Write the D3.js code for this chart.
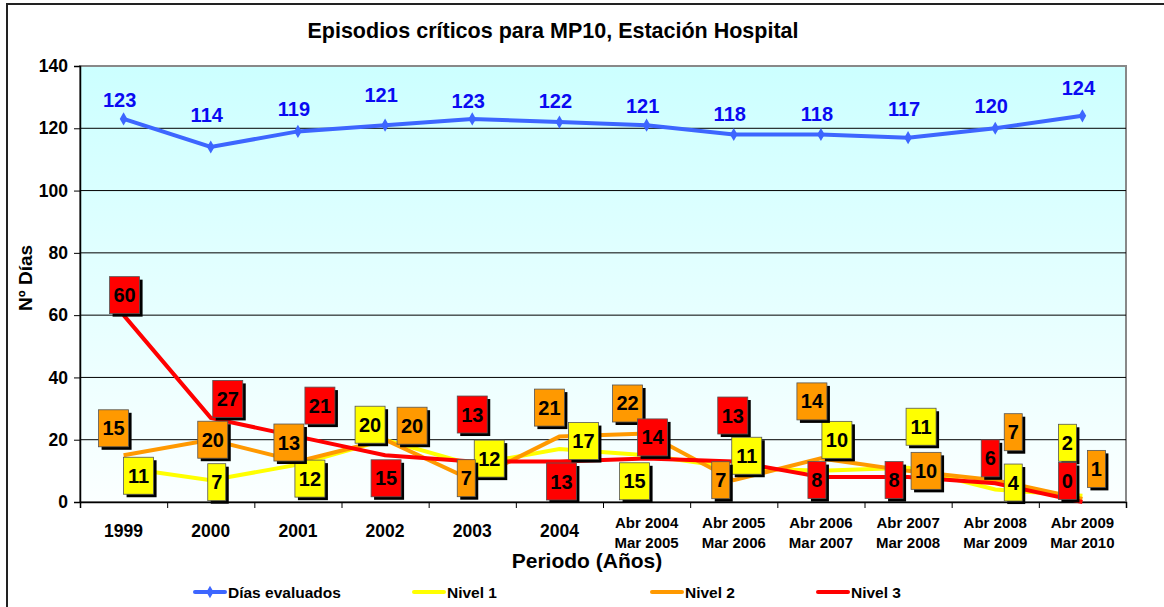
<!DOCTYPE html>
<meta charset="utf-8">
<style>
body { margin: 0; background: #fff; }
text { font-family: "Liberation Sans", Arial, sans-serif; font-weight: bold; }
.grid line { stroke: #000; stroke-width: 1; }
.axis path, .axis line { stroke: #000; }
.axis text { font-size: 17.5px; fill: #000; font-family: "Liberation Sans", Arial, sans-serif; font-weight: bold; }
</style>
<svg width="1164" height="607"></svg>
<script src="https://d3js.org/d3.v7.min.js"></script>
<script>

var periods = [["1999"], ["2000"], ["2001"], ["2002"], ["2003"], ["2004"],
  ["Abr 2004", "Mar 2005"], ["Abr 2005", "Mar 2006"], ["Abr 2006", "Mar 2007"],
  ["Abr 2007", "Mar 2008"], ["Abr 2008", "Mar 2009"], ["Abr 2009", "Mar 2010"]];

var diasEvaluados = [123, 114, 119, 121, 123, 122, 121, 118, 118, 117, 120, 124];
var nivel1 = [11, 7, 12, 20, 12, 17, 15, 11, 10, 11, 4, 2];
var nivel2 = [15, 20, 13, 20, 7, 21, 22, 7, 14, 10, 7, 1];
var nivel3 = [60, 27, 21, 15, 13, 13, 14, 13, 8, 8, 6, 0];

var yTicks = [0, 20, 40, 60, 80, 100, 120, 140];

// hand placed label offsets (box centre relative to point), as in the original
var off1 = [[15, 8], [6, 2], [12, 14], [-15, -15], [17, -6], [24, -8], [-12, 26], [13, -12], [16, -31], [13, -41], [18, -7], [-15, -53]];
var off2 = [[-10, -27], [2, 0], [-9, -19], [27, -14], [-6, -2], [-10, -29], [-19, -30], [-13, 0], [-9, -57], [18, 0], [18, -48], [14, -30]];
var off3 = [[1, -20], [17, -19], [22, -31], [1, 23], [0, -47], [2, 20], [6, -21], [-1, -46], [-4, 3], [-14, 3], [-5, -25], [-15, -21]];
var offBlue = [-12, -25, -15, -23, -11, -14, -12, -14, -14, -22, -15, -21];

var svg = d3.select("svg"),
    width = +svg.attr("width"),
    height = +svg.attr("height");

var pLeft = 80, pRight = 1126, pTop = 66, pBottom = 502;

var x = d3.scaleBand()
    .domain(d3.range(periods.length))
    .range([pLeft, pRight]);
var xc = function(i) { return x(i) + x.bandwidth() / 2; };

var xEdge = d3.scaleLinear()
    .domain([0, periods.length])
    .range([pLeft, pRight]);

var y = d3.scaleLinear()
    .domain([0, 140])
    .range([pBottom, pTop]);

// outer frame
svg.append("rect")
    .attr("x", 7).attr("y", 4)
    .attr("width", width + 20).attr("height", height + 20)
    .attr("fill", "#fff")
    .attr("stroke", "#222")
    .attr("stroke-width", 2);

var defs = svg.append("defs");
var grad = defs.append("linearGradient")
    .attr("id", "bg").attr("x1", 0).attr("y1", 0).attr("x2", 0).attr("y2", 1);
grad.append("stop").attr("offset", "0%").attr("stop-color", "#ccffff");
grad.append("stop").attr("offset", "100%").attr("stop-color", "#fbffff");

svg.append("rect")
    .attr("x", pLeft).attr("y", pTop)
    .attr("width", pRight - pLeft).attr("height", pBottom - pTop)
    .attr("fill", "url(#bg)")
    .attr("stroke", "#888")
    .attr("stroke-width", 2);

svg.append("g")
    .attr("class", "grid")
  .selectAll("line")
  .data(yTicks.slice(1, -1))
  .enter().append("line")
    .attr("x1", pLeft).attr("x2", pRight)
    .attr("y1", function(d) { return y(d); })
    .attr("y2", function(d) { return y(d); });

svg.append("g")
    .attr("class", "axis")
    .attr("transform", "translate(" + pLeft + ",0)")
    .call(d3.axisLeft(y).tickValues(yTicks).tickSize(6).tickPadding(6))
    .call(function(g) { g.select(".domain").attr("stroke-width", 1.5); });

svg.append("g")
    .attr("class", "axis")
    .attr("transform", "translate(0," + pBottom + ")")
    .call(d3.axisBottom(xEdge).tickValues(d3.range(periods.length + 1)).tickSize(6).tickFormat(""))
    .call(function(g) { g.select(".domain").attr("stroke-width", 1.5); });

// category labels
var cat = svg.append("g").selectAll("text")
  .data(periods)
  .enter().append("text")
    .attr("text-anchor", "middle")
    .attr("fill", "#000")
    .style("font-size", function(d) { return d.length > 1 ? "15px" : "17.5px"; });
cat.each(function(d, i) {
  var t = d3.select(this);
  if (d.length === 1) {
    t.append("tspan").attr("x", xc(i)).attr("y", 537).text(d[0]);
  } else {
    t.append("tspan").attr("x", xc(i)).attr("y", 528).text(d[0]);
    t.append("tspan").attr("x", xc(i)).attr("y", 548).text(d[1]);
  }
});

// titles
svg.append("text")
    .attr("x", 553).attr("y", 38)
    .attr("text-anchor", "middle")
    .style("font-size", "21.5px")
    .text("Episodios críticos para MP10, Estación Hospital");

svg.append("text")
    .attr("x", 587).attr("y", 568)
    .attr("text-anchor", "middle")
    .style("font-size", "21px")
    .text("Periodo (Años)");

svg.append("text")
    .attr("transform", "translate(32,278) rotate(-90)")
    .attr("text-anchor", "middle")
    .style("font-size", "19px")
    .text("Nº Días");

// lines
var series = [
  { name: "Nivel 1", values: nivel1, color: "#ffff00", off: off1 },
  { name: "Nivel 2", values: nivel2, color: "#ff9900", off: off2 },
  { name: "Nivel 3", values: nivel3, color: "#ff0000", off: off3 }
];

var line = d3.line()
    .x(function(d, i) { return xc(i); })
    .y(function(d) { return y(d); });

svg.append("path")
    .datum(diasEvaluados)
    .attr("fill", "none")
    .attr("stroke", "#3d66ff")
    .attr("stroke-width", 4)
    .attr("d", line);

svg.append("g").selectAll("path")
  .data(diasEvaluados)
  .enter().append("path")
    .attr("d", d3.symbol(d3.symbolDiamond, 50))
    .attr("fill", "#3d66ff")
    .attr("transform", function(d, i) { return "translate(" + xc(i) + "," + y(d) + ")"; });

series.forEach(function(s) {
  svg.append("path")
      .datum(s.values)
      .attr("fill", "none")
      .attr("stroke", s.color)
      .attr("stroke-width", 4)
      .attr("d", line);
});

// blue value labels
svg.append("g").selectAll("text")
  .data(diasEvaluados)
  .enter().append("text")
    .attr("x", function(d, i) { return xc(i) - 4; })
    .attr("y", function(d, i) { return y(d) + offBlue[i]; })
    .attr("text-anchor", "middle")
    .attr("fill", "#0a0af2")
    .style("font-size", "20px")
    .text(function(d) { return d; });

// boxed labels for the levels
series.forEach(function(s) {
  var g = svg.append("g").selectAll("g")
    .data(s.values)
    .enter().append("g")
      .attr("transform", function(d, i) {
        return "translate(" + (xc(i) + s.off[i][0]) + "," + (y(d) + s.off[i][1]) + ")";
      });
  g.each(function(d) {
    var w = String(d).length > 1 ? 30 : 18, h = 37;
    var gg = d3.select(this);
    gg.append("rect")
        .attr("x", -w / 2 + 3).attr("y", -h / 2 + 3)
        .attr("width", w).attr("height", h)
        .attr("fill", "#000");
    gg.append("rect")
        .attr("x", -w / 2).attr("y", -h / 2)
        .attr("width", w).attr("height", h)
        .attr("fill", s.color)
        .attr("stroke", "#555")
        .attr("stroke-width", 0.8);
    gg.append("text")
        .attr("text-anchor", "middle")
        .attr("y", 7)
        .style("font-size", "20px")
        .attr("fill", "#000")
        .text(d);
  });
});

// legend
var legend = [
  { name: "Días evaluados", color: "#3d66ff", x: 195, marker: true },
  { name: "Nivel 1", color: "#ffff00", x: 414 },
  { name: "Nivel 2", color: "#ff9900", x: 652 },
  { name: "Nivel 3", color: "#ff0000", x: 818 }
];

var lg = svg.append("g").selectAll("g")
  .data(legend)
  .enter().append("g")
    .attr("transform", function(d) { return "translate(" + d.x + ",592)"; });
lg.append("line")
    .attr("x1", 0).attr("x2", 30)
    .attr("stroke", function(d) { return d.color; })
    .attr("stroke-width", 4)
    .attr("stroke-linecap", "round");
lg.filter(function(d) { return d.marker; })
  .append("path")
    .attr("d", d3.symbol(d3.symbolDiamond, 45))
    .attr("transform", "translate(15,0)")
    .attr("fill", function(d) { return d.color; });
lg.append("text")
    .attr("x", 33).attr("y", 6)
    .style("font-size", "15.5px")
    .text(function(d) { return d.name; });

</script>
